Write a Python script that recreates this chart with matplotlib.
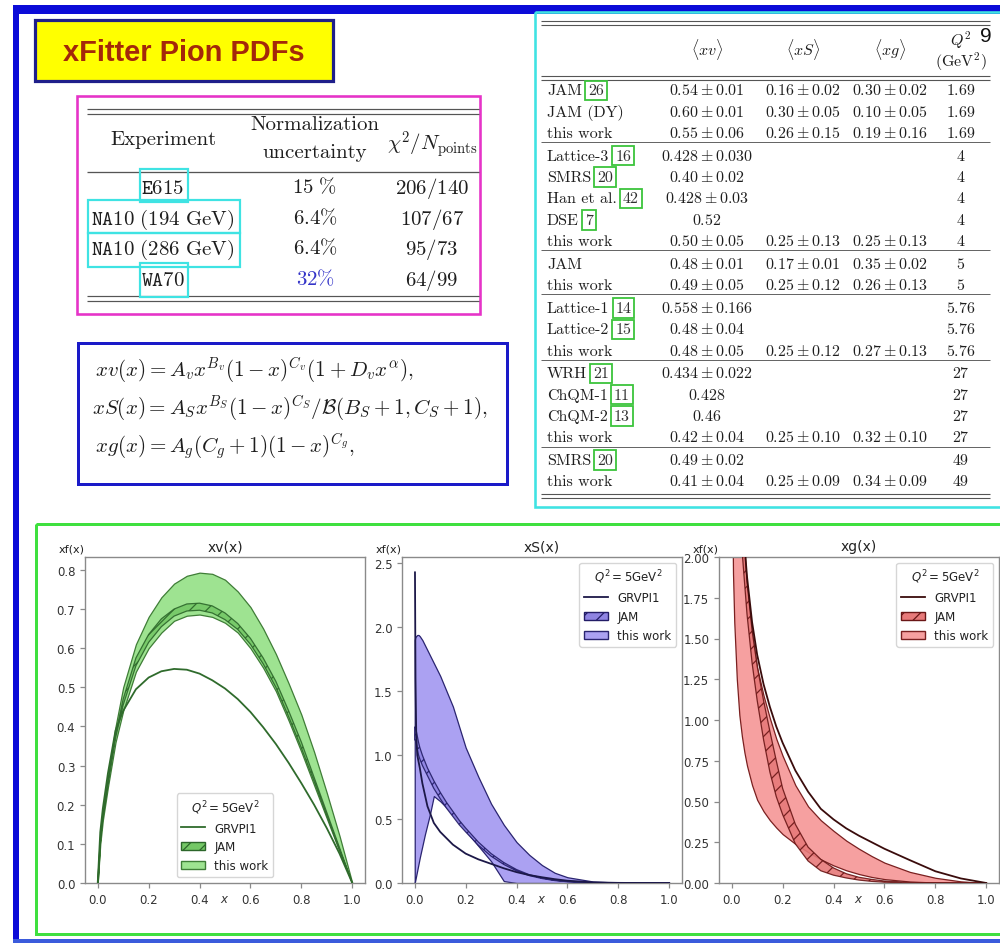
import matplotlib
matplotlib.use('Agg')
import matplotlib.pyplot as plt
from matplotlib.patches import Rectangle, Patch
from matplotlib.lines import Line2D
from matplotlib import font_manager

plt.rcParams['font.family'] = ['DejaVu Sans']
plt.rcParams['mathtext.fontset'] = 'dejavusans'
plt.rcParams['hatch.linewidth'] = 0.9

# ------------------------------------------------------------------ data
# xv(x) panel
xv_x = [0, 0.01, 0.02, 0.04, 0.07, 0.1, 0.15, 0.2, 0.25, 0.3, 0.35, 0.4, 0.45,
        0.5, 0.55, 0.6, 0.65, 0.7, 0.75, 0.8, 0.85, 0.9, 0.95, 1.0]
xv_tw_hi = [0, 0.12, 0.18, 0.27, 0.40, 0.50, 0.61, 0.68, 0.73, 0.765, 0.785, 0.793, 0.79,
            0.775, 0.745, 0.705, 0.65, 0.585, 0.51, 0.43, 0.335, 0.23, 0.12, 0]
xv_tw_lo = [0, 0.10, 0.16, 0.245, 0.36, 0.44, 0.54, 0.60, 0.64, 0.67, 0.683, 0.686, 0.68,
            0.665, 0.64, 0.60, 0.55, 0.49, 0.415, 0.335, 0.25, 0.165, 0.08, 0]
xv_jam_hi = [0, 0.11, 0.17, 0.26, 0.38, 0.47, 0.575, 0.635, 0.675, 0.70, 0.713, 0.715, 0.708,
             0.69, 0.663, 0.625, 0.575, 0.515, 0.44, 0.36, 0.27, 0.18, 0.09, 0]
xv_jam_lo = [0, 0.105, 0.165, 0.25, 0.37, 0.455, 0.555, 0.615, 0.655, 0.682, 0.695, 0.697, 0.69,
             0.673, 0.648, 0.61, 0.56, 0.50, 0.425, 0.345, 0.26, 0.172, 0.085, 0]
xv_grv = [0, 0.13, 0.19, 0.28, 0.39, 0.44, 0.495, 0.525, 0.541, 0.547, 0.545, 0.535, 0.518,
          0.497, 0.47, 0.437, 0.398, 0.355, 0.307, 0.255, 0.2, 0.14, 0.075, 0]

# xS(x) panel
xs_x = [0, 0.002, 0.005, 0.01, 0.015, 0.02, 0.03, 0.04, 0.05, 0.06, 0.075, 0.1, 0.125, 0.15,
        0.175, 0.2, 0.25, 0.3, 0.35, 0.4, 0.45, 0.5, 0.55, 0.6, 0.7, 0.8, 0.9, 1.0]
xs_tw_hi = [1.9, 1.92, 1.93, 1.94, 1.94, 1.93, 1.9, 1.86, 1.82, 1.78, 1.72, 1.62, 1.5, 1.38,
            1.22, 1.06, 0.83, 0.62, 0.455, 0.32, 0.22, 0.14, 0.08, 0.045, 0.012, 0.003, 0.0005, 0]
xs_tw_lo = [0, 0.02, 0.05, 0.1, 0.15, 0.2, 0.29, 0.38, 0.46, 0.54, 0.68, 0.64, 0.59, 0.535,
            0.475, 0.41, 0.29, 0.17, 0.015, 0, 0, 0, 0, 0, 0, 0, 0, 0]
xs_jam_hi = [1.22, 1.22, 1.2, 1.15, 1.1, 1.06, 1.0, 0.95, 0.9, 0.86, 0.8, 0.71, 0.63, 0.56,
             0.49, 0.43, 0.32, 0.23, 0.16, 0.105, 0.065, 0.04, 0.022, 0.012, 0.003, 0.0005, 0, 0]
xs_jam_lo = [1.12, 1.12, 1.1, 1.05, 1.0, 0.97, 0.92, 0.88, 0.84, 0.8, 0.74, 0.66, 0.585, 0.52,
             0.455, 0.4, 0.295, 0.21, 0.145, 0.095, 0.058, 0.035, 0.019, 0.01, 0.002, 0.0003, 0, 0]
xs_grv_x = [0.001, 0.003, 0.006, 0.01, 0.02, 0.03, 0.05, 0.075, 0.1, 0.15, 0.2, 0.25, 0.3,
            0.35, 0.4, 0.45, 0.5, 0.55, 0.6, 0.7, 0.8, 0.9, 1.0]
xs_grv = [2.43, 1.6, 1.15, 1.0, 0.9, 0.78, 0.6, 0.47, 0.40, 0.30, 0.23, 0.185, 0.15,
          0.115, 0.085, 0.062, 0.045, 0.03, 0.018, 0.005, 0.001, 0, 0]

# xg(x) panel
xg_x = [0.002, 0.005, 0.01, 0.02, 0.03, 0.04, 0.05, 0.06, 0.08, 0.1, 0.125, 0.15, 0.175, 0.2,
        0.25, 0.3, 0.35, 0.4, 0.45, 0.5, 0.55, 0.6, 0.7, 0.8, 0.9, 1.0]
xg_tw_lo = [2.4, 1.9, 1.6, 1.25, 1.03, 0.9, 0.8, 0.72, 0.6, 0.51, 0.44, 0.385, 0.34, 0.3,
            0.24, 0.19, 0.145, 0.108, 0.078, 0.055, 0.037, 0.024, 0.009, 0.003, 0.0005, 0]
xg_tw_hi = [3.6, 3.3, 3.0, 2.6, 2.35, 2.15, 2.0, 1.82, 1.53, 1.32, 1.15, 1.01, 0.885, 0.78,
            0.6, 0.47, 0.385, 0.32, 0.26, 0.21, 0.165, 0.125, 0.068, 0.032, 0.01, 0]
xg_jam_hi = [4.5, 4.0, 3.6, 3.0, 2.6, 2.3, 2.1, 1.85, 1.55, 1.33, 1.12, 0.93, 0.75, 0.58,
             0.36, 0.22, 0.145, 0.092, 0.057, 0.035, 0.022, 0.012, 0.003, 0.0005, 0, 0]
xg_jam_lo = [4.0, 3.6, 3.2, 2.7, 2.35, 2.05, 1.85, 1.65, 1.35, 1.12, 0.88, 0.68, 0.53, 0.42,
             0.24, 0.135, 0.075, 0.048, 0.031, 0.018, 0.01, 0.005, 0.001, 0, 0, 0]
xg_grv = [5.5, 4.8, 4.0, 3.2, 2.7, 2.35, 2.08, 1.88, 1.6, 1.4, 1.22, 1.08, 0.96, 0.86,
          0.69, 0.56, 0.455, 0.39, 0.335, 0.29, 0.25, 0.21, 0.14, 0.072, 0.028, 0]

panel_titles = ['xv(x)', 'xS(x)', 'xg(x)']
legend_labels = ['GRVPI1', 'JAM', 'this work']
legend_title = r'$Q^2=5\mathrm{GeV}^2$'

# experiments table
exp_names = [r'$\mathtt{E615}$', r'$\mathtt{NA10}\ \mathrm{(194\ GeV)}$',
             r'$\mathtt{NA10}\ \mathrm{(286\ GeV)}$', r'$\mathtt{WA70}$']
exp_norm = [r'$15\ \%$', r'$6.4\%$', r'$6.4\%$', r'$32\%$']
exp_chi2 = [r'$206/140$', r'$107/67$', r'$95/73$', r'$64/99$']

# momentum-fraction table
mom_names = ['JAM', 'JAM (DY)', 'this work', 'Lattice-3', 'SMRS', 'Han et al.', 'DSE',
             'this work', 'JAM', 'this work', 'Lattice-1', 'Lattice-2', 'this work', 'WRH',
             'ChQM-1', 'ChQM-2', 'this work', 'SMRS', 'this work']
mom_refs = ['26', None, None, '16', '20', '42', '7', None, None, None, '14', '15', None,
            '21', '11', '13', None, '20', None]
mom_xv = ['0.54\\pm0.01', '0.60\\pm0.01', '0.55\\pm0.06', '0.428\\pm0.030', '0.40\\pm0.02',
          '0.428\\pm0.03', '0.52', '0.50\\pm0.05', '0.48\\pm0.01', '0.49\\pm0.05',
          '0.558\\pm0.166', '0.48\\pm0.04', '0.48\\pm0.05', '0.434\\pm0.022', '0.428', '0.46',
          '0.42\\pm0.04', '0.49\\pm0.02', '0.41\\pm0.04']
mom_xS = ['0.16\\pm0.02', '0.30\\pm0.05', '0.26\\pm0.15', '', '', '', '', '0.25\\pm0.13',
          '0.17\\pm0.01', '0.25\\pm0.12', '', '', '0.25\\pm0.12', '', '', '', '0.25\\pm0.10',
          '', '0.25\\pm0.09']
mom_xg = ['0.30\\pm0.02', '0.10\\pm0.05', '0.19\\pm0.16', '', '', '', '', '0.25\\pm0.13',
          '0.35\\pm0.02', '0.26\\pm0.13', '', '', '0.27\\pm0.13', '', '', '', '0.32\\pm0.10',
          '', '0.34\\pm0.09']
mom_Q2 = ['1.69', '1.69', '1.69', '4', '4', '4', '4', '4', '5', '5', '5.76', '5.76', '5.76',
          '27', '27', '27', '27', '49', '49']
group_last = [2, 7, 9, 12, 16]

# ------------------------------------------------------------------ figure
W, H = 1000, 945
PX = 0.72
fig = plt.figure(figsize=(W / 100, H / 100), dpi=100)
bg = fig.add_axes([0, 0, 1, 1])
bg.set_xlim(0, W)
bg.set_ylim(H, 0)
bg.axis('off')
renderer = fig.canvas.get_renderer()


def has_font(name):
    try:
        font_manager.findfont(font_manager.FontProperties(family=name),
                              fallback_to_default=False)
        return True
    except Exception:
        return False


def box(x0, y0, x1, y1, ec, lw_px, fc='none', z=1):
    bg.add_patch(Rectangle((x0, y0), x1 - x0, y1 - y0, facecolor=fc, edgecolor=ec,
                           linewidth=lw_px * PX, zorder=z))


def fillrect(x0, y0, x1, y1, c, z=1):
    bg.add_patch(Rectangle((x0, y0), x1 - x0, y1 - y0, facecolor=c, edgecolor='none', zorder=z))


def hline(y, x0, x1, lw_px=1.0, color='#555555'):
    bg.plot([x0, x1], [y, y], color=color, lw=lw_px * PX, solid_capstyle='butt', zorder=2)


def T(x, y, s, size, ha='center', va='center', family='cmr10', color='#1e1e1e', **kw):
    return bg.text(x, y, s, fontsize=size, ha=ha, va=va, family=family, color=color,
                   math_fontfamily='cm', zorder=3, **kw)


def fit(t, target_px):
    bb = t.get_window_extent(renderer)
    t.set_fontsize(t.get_fontsize() * target_px / bb.width)


# outer blue frame
BLUE = '#0b0bd8'
fillrect(13, 6, 1000, 15, BLUE)
fillrect(13, 6, 19, 944, BLUE)
fillrect(13, 940, 1000, 944, '#3b5bdc')

# title box
box(35, 21, 333, 82, '#1f1f8a', 3.2, fc='#ffff00', z=2)
if has_font('Liberation Sans Narrow'):
    tfam = 'Liberation Sans Narrow'
else:
    tfam = 'Liberation Sans'
tt = bg.text(184, 53, 'xFitter Pion PDFs', fontsize=24, ha='center', va='center',
             family=tfam, fontweight='bold', color='#a3280a', zorder=3)
fit(tt, 242)

# experiments table
box(77, 97, 480, 315, '#e633c8', 2.6, z=2)
hline(110, 87, 479, 1.2)
hline(114.5, 87, 479, 1.2)
T(163, 140, 'Experiment', 15)
T(315, 125, 'Normalization', 15)
T(315, 153, 'uncertainty', 15)
T(432, 145, r'$\chi^2/N_{\mathrm{points}}$', 15)
hline(173, 87, 479, 1.3)
exp_rows_y = [187, 218, 248, 279]
for i, yc in enumerate(exp_rows_y):
    base = yc + 6.7
    T(163, base, exp_names[i], 15, va='baseline')
    T(315, base, exp_norm[i], 15, va='baseline', color='#3434c8' if i == 3 else '#1e1e1e')
    T(432, base, exp_chi2[i], 15, va='baseline')
hline(297, 87, 479, 1.2)
hline(301.5, 87, 479, 1.2)
CYAN = '#3fe3e3'
box(140, 170, 188, 203, CYAN, 2.2, z=4)
box(88, 201, 240, 234, CYAN, 2.2, z=4)
box(88, 234, 240, 268, CYAN, 2.2, z=4)
box(140, 264, 188, 298, CYAN, 2.2, z=4)

# formula box
box(78, 344, 507, 485, '#1a1ac8', 3.0, z=2)
f1 = T(95, 370, r'$xv(x) = A_v x^{B_v}(1-x)^{C_v}(1+D_v x^{\alpha}),$', 15, ha='left')
f2 = T(92, 408, r'$xS(x) = A_S x^{B_S}(1-x)^{C_S}/\mathcal{B}(B_S+1, C_S+1),$', 15, ha='left')
f3 = T(95, 447, r'$xg(x) = A_g(C_g+1)(1-x)^{C_g},$', 15, ha='left')
fit(f2, 396)
for f in (f1, f3):
    f.set_fontsize(f2.get_fontsize())

# momentum table
box(535, 13, 1010, 508, CYAN, 2.6, z=2)
hline(22, 541, 990, 1.1)
hline(26, 541, 990, 1.1)
col_x = [707, 803, 890, 961]
FS = 11.5
T(col_x[0], 50, r'$\langle xv\rangle$', FS)
T(col_x[1], 50, r'$\langle xS\rangle$', FS)
T(col_x[2], 50, r'$\langle xg\rangle$', FS)
T(col_x[3], 40, r'$Q^2$', FS)
T(col_x[3], 62, r'$(\mathrm{GeV}^2)$', FS)
bg.text(986, 37, '9', fontsize=15, family='Liberation Sans', ha='center', va='center',
        color='#111111', zorder=3)
hline(77, 541, 990, 1.1)
hline(81, 541, 990, 1.1)
row_y = []
nrule = 0
for i in range(len(mom_names)):
    row_y.append(90 + 21.4 * i + 1.2 * nrule)
    if i in group_last:
        nrule += 1
for i, yc in enumerate(row_y):
    base = yc + 5.2
    nt = T(547, base, mom_names[i], FS, ha='left', va='baseline')
    if mom_refs[i]:
        bg.annotate(mom_refs[i], xy=(1, 0), xycoords=nt, xytext=(6, 0),
                    textcoords='offset pixels', ha='left', va='bottom', family='cmr10',
                    fontsize=FS, color='#303030', zorder=3,
                    bbox=dict(boxstyle='square,pad=0.18', fc='none', ec='#3cc43c', lw=1.3))
    for cx, col in zip(col_x, (mom_xv, mom_xS, mom_xg, mom_Q2)):
        if col[i]:
            T(cx, base, '$' + col[i] + '$', FS, va='baseline')
    if i in group_last:
        hline((row_y[i] + 90 + 21.4 * (i + 1) + 1.2 * (group_last.index(i) + 1)) / 2 - 1,
              541, 990, 1.0, '#666666')
hline(495, 541, 990, 1.1)
hline(499, 541, 990, 1.1)

# green plot box
box(36, 525, 1010, 935, '#3fe03f', 3.0, z=2)

# ------------------------------------------------------------------ panels
def make_ax(left, right, top, bottom):
    return fig.add_axes([left / W, 1 - bottom / H, (right - left) / W, (bottom - top) / H])


axes = [make_ax(85, 365, 558, 884), make_ax(402, 682, 558, 884), make_ax(719, 999, 558, 884)]

schemes = [
    dict(tw_face='#9ee391', tw_edge='#3f7d37', jam_face='#74c866', jam_edge='#2c662a', grv='#2f6b2c'),
    dict(tw_face='#aba1f2', tw_edge='#2a2470', jam_face='#8f84e2', jam_edge='#221c66', grv='#1c1848'),
    dict(tw_face='#f6a0a0', tw_edge='#7a2020', jam_face='#e77a7a', jam_edge='#6a1616', grv='#3a0c0c'),
]
panels = [
    (xv_x, xv_tw_lo, xv_tw_hi, xv_x, xv_jam_lo, xv_jam_hi, xv_x, xv_grv, (0, 0.833), 'lower center'),
    (xs_x, xs_tw_lo, xs_tw_hi, xs_x, xs_jam_lo, xs_jam_hi, xs_grv_x, xs_grv, (0, 2.55), 'upper right'),
    (xg_x, xg_tw_lo, xg_tw_hi, xg_x, xg_jam_lo, xg_jam_hi, xg_x, xg_grv, (0, 2.0), 'upper right'),
]

for ax, p, c, title in zip(axes, panels, schemes, panel_titles):
    x, lo, hi, jx, jlo, jhi, gx, gy, ylim, loc = p
    ax.fill_between(x, lo, hi, facecolor=c['tw_face'], edgecolor=c['tw_edge'], lw=0.9, zorder=2)
    ax.fill_between(jx, jlo, jhi, facecolor=c['jam_face'], edgecolor=c['jam_edge'], hatch='//',
                    lw=0.9, alpha=0.9, zorder=3)
    ax.plot(gx, gy, color=c['grv'], lw=1.3, zorder=4)
    ax.set_xlim(-0.05, 1.05)
    ax.set_ylim(*ylim)
    ax.set_xticks([0, 0.2, 0.4, 0.6, 0.8, 1.0])
    for s in ax.spines.values():
        s.set_color('#8a8a8a')
        s.set_linewidth(1.0)
    ax.tick_params(labelsize=8.5, colors='#8a8a8a', labelcolor='#333333', length=3.5, width=0.9)
    ax.set_title(title, fontsize=10, color='#222222', pad=5)
    ax.text(0, 1.012, 'xf(x)', transform=ax.transAxes, ha='right', va='bottom', fontsize=8,
            color='#222222')
    ax.text(0.5, -0.047, '$x$', transform=ax.transAxes, ha='center', va='center', fontsize=8.5,
            color='#333333')
    handles = [Line2D([], [], color=c['grv'], lw=1.3),
               Patch(facecolor=c['jam_face'], edgecolor=c['jam_edge'], hatch='//'),
               Patch(facecolor=c['tw_face'], edgecolor=c['tw_edge'])]
    leg = ax.legend(handles, legend_labels, title=legend_title, loc=loc, fontsize=8.5,
                    title_fontsize=8.5)
    leg.get_title().set_color('#222222')
    for t in leg.get_texts():
        t.set_color('#222222')

fig.savefig('out.png', dpi=100)
